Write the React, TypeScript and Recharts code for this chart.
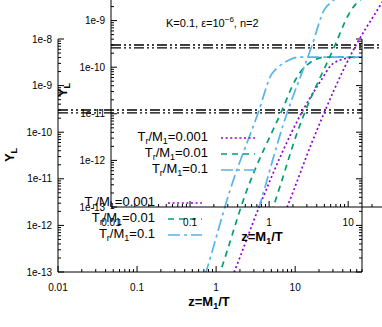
import React from 'react';
import { LineChart, Line, XAxis, YAxis, ReferenceLine } from 'recharts';

const FONT = '"Liberation Sans", Arial, Helvetica, sans-serif';

// ticks
const xMajor = [0.01, 0.1, 1, 10];
const xMajorLabels = ['0.01', '0.1', '1', '10'];
const yMajor = [1e-13, 1e-12, 1e-11, 1e-10, 1e-9, 1e-8];
const yMajorLabels = ['1e-13', '1e-12', '1e-11', '1e-10', '1e-9', '1e-8'];
const minorMult = [2, 3, 4, 5, 6, 7, 8, 9];
const xTicks = [
  ...xMajor,
  ...[0.01, 0.1, 1].flatMap((d) => minorMult.map((m) => m * d)),
  ...[20, 30, 40, 50, 60, 70],
];
const yTicks = [...yMajor, ...[1e-13, 1e-12, 1e-11, 1e-10, 1e-9].flatMap((d) => minorMult.map((m) => m * d))];

// series: T_r/M_1
const seriesLabels = ['0.001', '0.01', '0.1'];
const seriesColors = ['#9400D3', '#009E73', '#56B4E9'];
const seriesDash = ['2 2.6', '6 5', '12 4 3 4'];

const zPurple = [0.94, 1.69, 3.5, 12.6, 22.6, 27.7, 37, 52.5, 70];
const yPurple = [1e-14, 1e-13, 2.5e-12, 3.0e-10, 1.53e-9, 2.6e-9, 3.55e-9, 4.0e-9, 4.1e-9];

const zGreen = [0.68, 1.125, 2.4, 6.84, 10, 12.3, 14.6, 18.5, 24, 70];
const yGreen = [1e-14, 1e-13, 5.2e-12, 3.0e-10, 1.3e-9, 2.2e-9, 2.9e-9, 3.7e-9, 4.1e-9, 4.1e-9];

const zBlue = [0.48, 0.746, 1.5, 3.5, 4.97, 6.1, 7.5, 9.2, 11.6, 16, 70];
const yBlue = [1e-14, 1e-13, 5.7e-12, 3.0e-10, 1.7e-9, 2.5e-9, 3.2e-9, 3.8e-9, 4.1e-9, 4.1e-9, 4.1e-9];

// horizontal band (double dash-dot-dot line)
const bandValues = [3.0e-10, 2.6e-10];

const toData = (zs: number[], ys: number[]) => zs.map((z, i) => ({ z, y: ys[i] }));
const seriesData = [toData(zPurple, yPurple), toData(zGreen, yGreen), toData(zBlue, yBlue)];

const isClose = (a: number, b: number) => Math.abs(a / b - 1) < 1e-6;

function BottomTick(p: any) {
  const v = p.payload.value;
  const i = xMajor.findIndex((m) => isClose(m, v));
  const major = i >= 0;
  return (
    <g>
      <line x1={p.x} x2={p.x} y1={p.y} y2={p.y - (major ? 6 : 3)} stroke="#000" strokeWidth={1} />
      {major && (
        <text x={p.x} y={p.y + 19} textAnchor="middle" fontSize={10} fontFamily={FONT} fill="#000">
          {xMajorLabels[i]}
        </text>
      )}
    </g>
  );
}
function TopTick(p: any) {
  const v = p.payload.value;
  const major = xMajor.some((m) => isClose(m, v));
  return <line x1={p.x} x2={p.x} y1={p.y} y2={p.y + (major ? 6 : 3)} stroke="#000" strokeWidth={1} />;
}
function LeftTick(p: any) {
  const v = p.payload.value;
  const i = yMajor.findIndex((m) => isClose(m, v));
  const major = i >= 0;
  return (
    <g>
      <line x1={p.x} x2={p.x + (major ? 6 : 3)} y1={p.y} y2={p.y} stroke="#000" strokeWidth={1} />
      {major && (
        <text x={p.x - 6} y={p.y + 3.5} textAnchor="end" fontSize={10} fontFamily={FONT} fill="#000">
          {yMajorLabels[i]}
        </text>
      )}
    </g>
  );
}
function RightTick(p: any) {
  const v = p.payload.value;
  const major = yMajor.some((m) => isClose(m, v));
  return <line x1={p.x} x2={p.x - (major ? 6 : 3)} y1={p.y} y2={p.y} stroke="#000" strokeWidth={1} />;
}

function Panel({ dx, dy }: { dx: number; dy: number }) {
  return (
    <div style={{ position: 'absolute', left: dx, top: dy, width: 382, height: 327 }}>
      <LineChart width={382} height={327} margin={{ top: 39, right: 0, bottom: 25, left: 0 }}>
        <XAxis
          xAxisId="b"
          type="number"
          dataKey="z"
          scale="log"
          domain={[0.01, 70]}
          allowDataOverflow
          ticks={xTicks}
          interval={0}
          tick={(p: any) => <BottomTick {...p} />}
          tickLine={false}
          tickSize={0}
          tickMargin={0}
          height={30}
          axisLine={{ stroke: '#000', strokeWidth: 1 }}
        />
        <XAxis
          xAxisId="t"
          orientation="top"
          type="number"
          dataKey="z"
          scale="log"
          domain={[0.01, 70]}
          allowDataOverflow
          ticks={xTicks}
          interval={0}
          tick={(p: any) => <TopTick {...p} />}
          tickLine={false}
          tickSize={0}
          tickMargin={0}
          height={0}
          axisLine={{ stroke: '#000', strokeWidth: 1 }}
        />
        <YAxis
          yAxisId="l"
          type="number"
          scale="log"
          domain={[1e-13, 1e-8]}
          allowDataOverflow
          ticks={yTicks}
          interval={0}
          tick={(p: any) => <LeftTick {...p} />}
          tickLine={false}
          tickSize={0}
          tickMargin={0}
          width={58}
          axisLine={{ stroke: '#000', strokeWidth: 1 }}
        />
        <YAxis
          yAxisId="r"
          orientation="right"
          type="number"
          scale="log"
          domain={[1e-13, 1e-8]}
          allowDataOverflow
          ticks={yTicks}
          interval={0}
          tick={(p: any) => <RightTick {...p} />}
          tickLine={false}
          tickSize={0}
          tickMargin={0}
          width={20}
          axisLine={{ stroke: '#000', strokeWidth: 1 }}
        />
        {bandValues.map((v) => (
          <ReferenceLine
            key={v}
            xAxisId="b"
            yAxisId="l"
            y={v}
            stroke="#000"
            strokeWidth={1.4}
            strokeDasharray="10 3 2 3 2 3"
          />
        ))}
        {seriesData.map((d, i) => (
          <Line
            key={seriesLabels[i]}
            xAxisId="b"
            yAxisId="l"
            data={d}
            dataKey="y"
            type="monotone"
            stroke={seriesColors[i]}
            strokeWidth={1.7}
            strokeDasharray={seriesDash[i]}
            dot={false}
            isAnimationActive={false}
          />
        ))}
      </LineChart>
      <svg
        width={382}
        height={327}
        style={{ position: 'absolute', left: 0, top: 0, pointerEvents: 'none' }}
        fontFamily={FONT}
      >
        <text x={166} y={27} fontSize={11} fill="#000">
          K=0.1, ε=10
          <tspan dy={-5} fontSize={8}>
            −6
          </tspan>
          <tspan dy={5}>, n=2</tspan>
        </text>
        <text x={209} y={306} textAnchor="middle" fontWeight="bold" fontSize={13} fill="#000">
          z=M
          <tspan dy={3} fontSize={9}>
            1
          </tspan>
          <tspan dy={-3}>/T</tspan>
        </text>
        <text
          transform="rotate(-90 14 155)"
          x={14}
          y={155}
          textAnchor="middle"
          fontWeight="bold"
          fontSize={13}
          fill="#000"
        >
          Y
          <tspan dy={3} fontSize={9}>
            L
          </tspan>
        </text>
        {seriesLabels.map((lab, i) => (
          <g key={lab}>
            <text x={155} y={206 + 16 * i} textAnchor="end" fontSize={13} fill="#000">
              T
              <tspan dy={3} fontSize={9}>
                r
              </tspan>
              <tspan dy={-3}>/M</tspan>
              <tspan dy={3} fontSize={9}>
                1
              </tspan>
              <tspan dy={-3}>={lab}</tspan>
            </text>
            <line
              x1={168}
              x2={202}
              y1={203 + 16 * i}
              y2={203 + 16 * i}
              stroke={seriesColors[i]}
              strokeWidth={1.7}
              strokeDasharray={seriesDash[i]}
            />
          </g>
        ))}
      </svg>
    </div>
  );
}

const panelOffsets = [
  [0, 0],
  [53, -65],
];

export default function App() {
  return (
    <div
      style={{
        position: 'absolute',
        left: 0,
        top: 0,
        width: 382,
        height: 327,
        overflow: 'hidden',
        background: '#fff',
      }}
    >
      {panelOffsets.map(([dx, dy], i) => (
        <Panel key={i} dx={dx} dy={dy} />
      ))}
    </div>
  );
}
